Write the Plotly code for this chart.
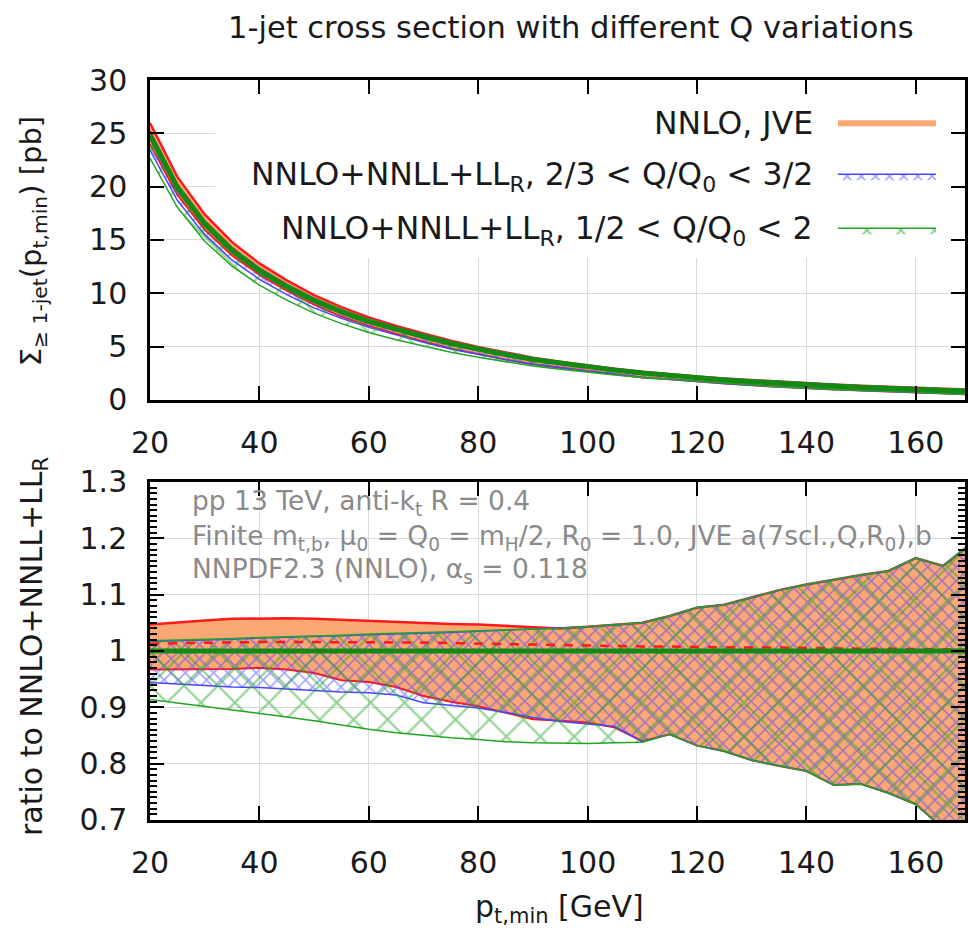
import plotly.graph_objects as go

# ---------------- data ----------------
pt = [20, 25, 30, 35, 40, 45, 50, 55, 60, 65, 70, 75, 80, 85, 90, 95, 100,
      105, 110, 115, 120, 125, 130, 135, 140, 145, 150, 155, 160, 165, 170]

# central NNLO+NNLL+LL_R cross section [pb]
sigma_central = [24.8, 19.9, 16.5, 14.0, 12.1, 10.6, 9.3, 8.25, 7.35, 6.6, 5.95,
                 5.3, 4.75, 4.25, 3.8, 3.45, 3.1, 2.8, 2.52, 2.27, 2.05, 1.87,
                 1.7, 1.55, 1.4, 1.28, 1.17, 1.08, 0.98, 0.88, 0.8]

# ratios to NNLO+NNLL+LL_R central
jve_hi = [1.047, 1.051, 1.054, 1.057, 1.058, 1.058, 1.057, 1.055, 1.053, 1.051,
          1.049, 1.048, 1.047, 1.045, 1.042, 1.040, 1.043, 1.046, 1.050, 1.062,
          1.077, 1.082, 1.095, 1.108, 1.118, 1.127, 1.135, 1.142, 1.165, 1.151, 1.19]
jve_lo = [0.967, 0.967, 0.967, 0.968, 0.970, 0.967, 0.961, 0.948, 0.945, 0.936,
          0.920, 0.910, 0.902, 0.890, 0.879, 0.876, 0.873, 0.864, 0.840, 0.852,
          0.832, 0.822, 0.806, 0.796, 0.787, 0.762, 0.764, 0.748, 0.728, 0.685, 0.66]
jve_mid = [1.013, 1.014, 1.015, 1.016, 1.016, 1.016, 1.016, 1.016, 1.016, 1.015,
           1.015, 1.014, 1.013, 1.012, 1.011, 1.010, 1.009, 1.009, 1.008, 1.008,
           1.007, 1.007, 1.006, 1.006, 1.005, 1.005, 1.004, 1.004, 1.003, 1.003, 1.002]

q32_hi = [1.017, 1.018, 1.019, 1.021, 1.023, 1.024, 1.026, 1.027, 1.029, 1.030,
          1.032, 1.033, 1.035, 1.037, 1.039, 1.040, 1.043, 1.046, 1.050, 1.062,
          1.077, 1.082, 1.095, 1.108, 1.118, 1.127, 1.135, 1.142, 1.165, 1.151, 1.19]
q32_lo = [0.944, 0.941, 0.938, 0.936, 0.935, 0.932, 0.929, 0.927, 0.926, 0.922,
          0.908, 0.903, 0.899, 0.891, 0.882, 0.875, 0.870, 0.866, 0.839, 0.852,
          0.832, 0.822, 0.806, 0.796, 0.787, 0.762, 0.764, 0.748, 0.728, 0.685, 0.66]

q2_hi = [1.018, 1.019, 1.020, 1.022, 1.024, 1.025, 1.027, 1.028, 1.030, 1.031,
         1.033, 1.034, 1.036, 1.038, 1.039, 1.040, 1.043, 1.046, 1.050, 1.062,
         1.077, 1.082, 1.095, 1.108, 1.118, 1.127, 1.135, 1.142, 1.165, 1.151, 1.19]
q2_lo = [0.914, 0.908, 0.902, 0.896, 0.890, 0.883, 0.876, 0.868, 0.861, 0.855,
         0.850, 0.846, 0.843, 0.839, 0.837, 0.836, 0.836, 0.837, 0.838, 0.852,
         0.832, 0.822, 0.806, 0.796, 0.787, 0.762, 0.764, 0.748, 0.728, 0.685, 0.66]

central_ratio = [1.0] * len(pt)

legend_labels = ["NNLO, JVE",
                 "NNLO+NNLL+LL<sub>R</sub>, 2/3 &lt; Q/Q<sub>0</sub> &lt; 3/2",
                 "NNLO+NNLL+LL<sub>R</sub>, 1/2 &lt; Q/Q<sub>0</sub> &lt; 2"]

x_ticks = [20, 40, 60, 80, 100, 120, 140, 160]
y1_ticks = [0, 5, 10, 15, 20, 25, 30]
y2_ticks = [0.7, 0.8, 0.9, 1.0, 1.1, 1.2, 1.3]
y2_ticktext = ["0.7", "0.8", "0.9", "1", "1.1", "1.2", "1.3"]

info_lines = ["pp 13 TeV, anti-k<sub>t</sub> R = 0.4",
              "Finite m<sub>t,b</sub>, μ<sub>0</sub> = Q<sub>0</sub> = m<sub>H</sub>/2, R<sub>0</sub> = 1.0, JVE a(7scl.,Q,R<sub>0</sub>),b",
              "NNPDF2.3 (NNLO), α<sub>s</sub> = 0.118"]

# ---------------- styling ----------------
FONT = "DejaVu Sans"
ORANGE = "#fca874"
RED = "#ff1a1a"
BLUE = "#4646ff"
GREEN = "#22a522"
DGREEN = "#138a13"
TXT = "#1a1a1a"

fig = go.Figure()

def scaled(ratio):
    return [c * r for c, r in zip(sigma_central, ratio)]

def add_panel(xa, ya, conv, show_leg):
    # NNLO JVE band (solid)
    fig.add_trace(go.Scatter(x=pt, y=conv(jve_lo), xaxis=xa, yaxis=ya, mode="lines",
                             line=dict(width=0, color=ORANGE), showlegend=False, hoverinfo="skip"))
    fig.add_trace(go.Scatter(x=pt, y=conv(jve_hi), xaxis=xa, yaxis=ya, mode="lines",
                             fill="tonexty", fillcolor=ORANGE, line=dict(width=0, color=ORANGE),
                             name="", legendgroup="a", showlegend=show_leg))
    fig.add_trace(go.Scatter(x=pt, y=conv(jve_lo), xaxis=xa, yaxis=ya, mode="lines",
                             line=dict(width=2, color=RED), showlegend=False))
    fig.add_trace(go.Scatter(x=pt, y=conv(jve_hi), xaxis=xa, yaxis=ya, mode="lines",
                             line=dict(width=2.5, color=RED), showlegend=False))
    # 2/3 < Q/Q0 < 3/2 band (fine cross hatch)
    fig.add_trace(go.Scatter(x=pt, y=conv(q32_lo), xaxis=xa, yaxis=ya, mode="lines",
                             line=dict(width=1.5, color=BLUE), showlegend=False))
    fig.add_trace(go.Scatter(x=pt, y=conv(q32_hi), xaxis=xa, yaxis=ya, mode="lines",
                             fill="tonexty", fillcolor="rgba(0,0,0,0)",
                             fillpattern=dict(shape="x", fgcolor=BLUE, bgcolor="rgba(0,0,0,0)",
                                              size=10, solidity=0.3),
                             line=dict(width=1.5, color=BLUE),
                             name="", legendgroup="b", showlegend=show_leg))
    # 1/2 < Q/Q0 < 2 band (coarse cross hatch)
    fig.add_trace(go.Scatter(x=pt, y=conv(q2_lo), xaxis=xa, yaxis=ya, mode="lines",
                             line=dict(width=1.5, color=GREEN), showlegend=False))
    fig.add_trace(go.Scatter(x=pt, y=conv(q2_hi), xaxis=xa, yaxis=ya, mode="lines",
                             fill="tonexty", fillcolor="rgba(0,0,0,0)",
                             fillpattern=dict(shape="x", fgcolor=GREEN, bgcolor="rgba(0,0,0,0)",
                                              size=24, solidity=0.17),
                             line=dict(width=1.5, color=GREEN),
                             name="", legendgroup="c", showlegend=show_leg))
    # central lines
    fig.add_trace(go.Scatter(x=pt, y=conv(jve_mid), xaxis=xa, yaxis=ya, mode="lines",
                             line=dict(width=2.5, color=RED, dash="dash"), showlegend=False))
    fig.add_trace(go.Scatter(x=pt, y=conv(central_ratio), xaxis=xa, yaxis=ya, mode="lines",
                             line=dict(width=5, color=DGREEN), showlegend=False))

add_panel("x", "y", scaled, True)
add_panel("x2", "y2", lambda r: r, False)

axis_common = dict(showline=True, linecolor="black", linewidth=2.5, mirror="ticks",
                   ticks="inside", ticklen=14, tickwidth=2, tickcolor="black",
                   showgrid=True, gridcolor="#dadada", gridwidth=1, zeroline=False,
                   ticklabelstandoff=14,
                   tickfont=dict(family=FONT, size=30, color=TXT))

TOP_DOM = [0.5676, 1.0]
BOT_DOM = [0.0, 0.4568]

fig.update_layout(
    width=968, height=928,
    margin=dict(l=150, r=3, t=80, b=108, autoexpand=False),
    paper_bgcolor="white", plot_bgcolor="white",
    font=dict(family=FONT, size=30, color=TXT),
    xaxis=dict(axis_common, range=[20, 169], domain=[0, 1], anchor="y",
               tickvals=x_ticks),
    yaxis=dict(axis_common, range=[0, 30], domain=TOP_DOM, anchor="x",
               tickvals=y1_ticks),
    xaxis2=dict(axis_common, range=[20, 169], domain=[0, 1], anchor="y2",
                tickvals=x_ticks),
    yaxis2=dict(axis_common, range=[0.7, 1.3], domain=BOT_DOM, anchor="x2",
                tickvals=y2_ticks, ticktext=y2_ticktext,
                minor=dict(dtick=0.01, ticks="inside", ticklen=7, tickwidth=1.5,
                           tickcolor="black", showgrid=False)),
    legend=dict(x=0.838, xanchor="left", y=0.978, yanchor="top",
                bgcolor="rgba(0,0,0,0)", font=dict(size=30, family=FONT),
                tracegroupgap=12, itemwidth=98),
    # white background behind the key block (hides grid, stays under the curves)
    shapes=[dict(type="rect", xref="x", yref="y",
                 x0=31.9, x1=169, y0=13.3, y1=30, layer="between",
                 fillcolor="white", line=dict(width=0))],
)

ann = []
ann.append(dict(text="1-jet cross section with different Q variations", xref="paper", yref="paper",
                x=0.517, y=1.0716, xanchor="center", yanchor="middle", showarrow=False,
                font=dict(family=FONT, size=30.5, color=TXT)))
ann.append(dict(text="p<sub>t,min</sub> [GeV]", xref="paper", yref="paper",
                x=0.503, y=-0.119, xanchor="center", yanchor="middle", showarrow=False,
                font=dict(family=FONT, size=30, color=TXT)))
ann.append(dict(text="Σ<sub>≥ 1-jet</sub>(p<sub>t,min</sub>) [pb]", xref="paper", yref="paper",
                x=-0.1436, y=0.782, xanchor="center", yanchor="middle", showarrow=False,
                textangle=-90, font=dict(family=FONT, size=29, color=TXT)))
ann.append(dict(text="ratio to NNLO+NNLL+LL<sub>R</sub>", xref="paper", yref="paper",
                x=-0.1436, y=0.235, xanchor="center", yanchor="middle", showarrow=False,
                textangle=-90, font=dict(family=FONT, size=30, color=TXT)))
for lab, yy in zip(legend_labels, [0.9419, 0.870, 0.797]):
    ann.append(dict(text=lab, xref="paper", yref="paper", x=0.816, y=yy,
                    xanchor="right", yanchor="middle", showarrow=False,
                    font=dict(family=FONT, size=31.5, color=TXT)))
for line, yy in zip(info_lines, [0.4297, 0.3824, 0.3365]):
    ann.append(dict(text=line, xref="paper", yref="paper", x=0.049, y=yy,
                    xanchor="left", yanchor="middle", showarrow=False,
                    font=dict(family=FONT, size=26.5, color="#8a8a8a")))
fig.update_layout(annotations=ann)

fig.write_html("out.html")
